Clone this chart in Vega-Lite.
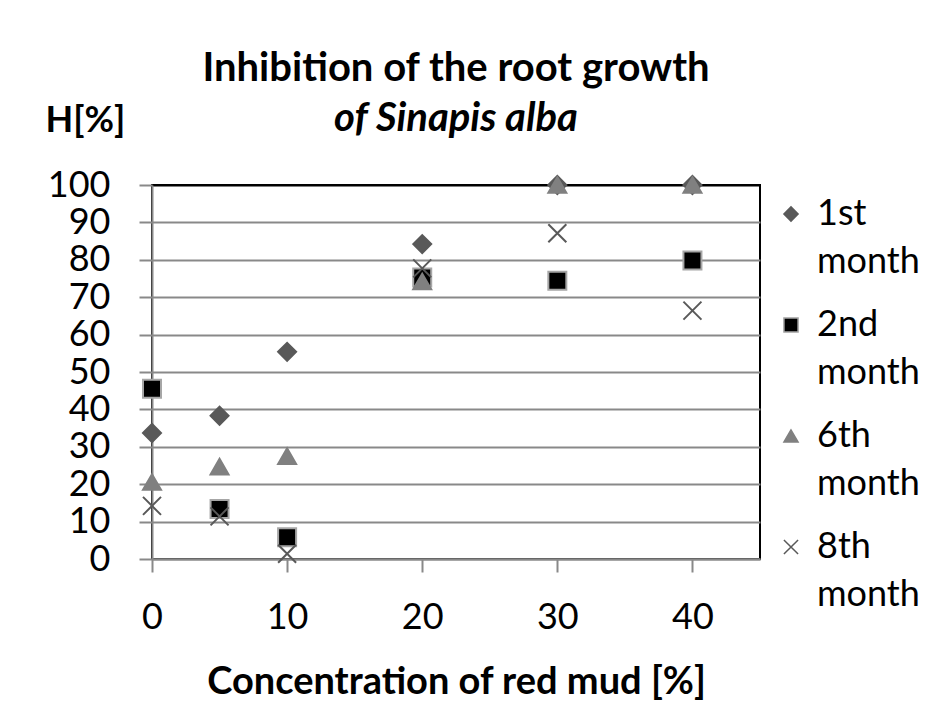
{
  "$schema": "https://vega.github.io/schema/vega-lite/v6.json",
  "autosize": "none",
  "width": 608,
  "height": 374,
  "padding": {"left": 152, "top": 185, "right": 185, "bottom": 159},
  "background": "white",
  "config": {
    "font": "Lato",
    "view": {"stroke": "#000000", "strokeWidth": 2},
    "style": {"guide-label": {"lineHeight": 48}},
    "axis": {
      "domainColor": "#898989",
      "domainWidth": 2,
      "tickColor": "#898989",
      "tickWidth": 2,
      "tickSize": 13,
      "labelFont": "Lato",
      "labelFontSize": 36,
      "labelColor": "#000000",
      "labelFlush": false,
      "titleFont": "Lato",
      "titleFontSize": 38,
      "titleFontWeight": "bold",
      "titleColor": "#000000"
    }
  },
  "title": {
    "text": "Inhibition of the root growth",
    "subtitle": "of Sinapis alba",
    "anchor": "middle",
    "font": "Lato",
    "fontSize": 40,
    "fontWeight": "bold",
    "color": "#000000",
    "subtitleFont": "Lato",
    "subtitleFontSize": 40,
    "subtitleFontWeight": "bold",
    "subtitleFontStyle": "italic",
    "subtitleColor": "#000000",
    "subtitlePadding": 10,
    "offset": -37
  },
  "data": {
    "values": [
      {"c": 0, "h": 33.7, "s": "1st month"},
      {"c": 5, "h": 38.3, "s": "1st month"},
      {"c": 10, "h": 55.4, "s": "1st month"},
      {"c": 20, "h": 84.2, "s": "1st month"},
      {"c": 30, "h": 100, "s": "1st month"},
      {"c": 40, "h": 100, "s": "1st month"},
      {"c": 0, "h": 45.5, "s": "2nd month"},
      {"c": 5, "h": 13.4, "s": "2nd month"},
      {"c": 10, "h": 5.8, "s": "2nd month"},
      {"c": 20, "h": 75.3, "s": "2nd month"},
      {"c": 30, "h": 74.4, "s": "2nd month"},
      {"c": 40, "h": 79.8, "s": "2nd month"},
      {"c": 0, "h": 20.6, "s": "6th month"},
      {"c": 5, "h": 24.7, "s": "6th month"},
      {"c": 10, "h": 27.5, "s": "6th month"},
      {"c": 20, "h": 74.2, "s": "6th month"},
      {"c": 30, "h": 100, "s": "6th month"},
      {"c": 40, "h": 100, "s": "6th month"},
      {"c": 0, "h": 14.2, "s": "8th month"},
      {"c": 5, "h": 11.4, "s": "8th month"},
      {"c": 10, "h": 1.4, "s": "8th month"},
      {"c": 20, "h": 77.7, "s": "8th month"},
      {"c": 30, "h": 87.1, "s": "8th month"},
      {"c": 40, "h": 66.4, "s": "8th month"}
    ]
  },
  "mark": {"type": "point", "filled": true, "size": 324, "strokeWidth": 2, "opacity": 1},
  "encoding": {
    "x": {
      "field": "c",
      "type": "quantitative",
      "scale": {"domain": [0, 45], "nice": false, "zero": false},
      "axis": {
        "values": [0, 10, 20, 30, 40],
        "grid": false,
        "labelPadding": 28,
        "title": "Concentration of red mud [%]",
        "titleBaseline": "alphabetic",
        "titleY": 134
      }
    },
    "y": {
      "field": "h",
      "type": "quantitative",
      "scale": {"domain": [0, 100], "nice": false},
      "axis": {
        "values": [0, 10, 20, 30, 40, 50, 60, 70, 80, 90, 100],
        "grid": true,
        "gridColor": {"condition": {"test": "datum.value === 100", "value": "#000000"}, "value": "#898989"},
        "gridWidth": 2,
        "labelPadding": 29,
        "title": "H[%]",
        "titleAngle": 0,
        "titleAlign": "left",
        "titleBaseline": "alphabetic",
        "titleFontSize": 36,
        "titleX": -107,
        "titleY": -54
      }
    },
    "shape": {
      "field": "s",
      "type": "nominal",
      "scale": {
        "domain": ["1st month", "2nd month", "6th month", "8th month"],
        "range": ["diamond", "square", "triangle-up", "M-1,-1L1,1M-1,1L1,-1"]
      },
      "legend": {
        "title": null,
        "orient": "none",
        "legendX": 621,
        "legendY": 11,
        "padding": 0,
        "labelFont": "Lato",
        "labelFontSize": 36,
        "labelColor": "#000000",
        "labelLimit": 400,
        "labelOffset": 8,
        "labelExpr": "split(datum.label, ' ')",
        "symbolSize": 200,
        "symbolStrokeWidth": 1.5,
        "rowPadding": 27,
        "encode": {
          "labels": {"update": {"lineHeight": {"value": 48}, "dy": {"value": 24}}}
        }
      }
    },
    "fill": {
      "field": "s",
      "type": "nominal",
      "scale": {
        "domain": ["1st month", "2nd month", "6th month", "8th month"],
        "range": ["#595959", "#000000", "#808080", "transparent"]
      }
    },
    "stroke": {
      "field": "s",
      "type": "nominal",
      "scale": {
        "domain": ["1st month", "2nd month", "6th month", "8th month"],
        "range": ["#595959", "#a6a6a6", "#808080", "#595959"]
      }
    }
  }
}
